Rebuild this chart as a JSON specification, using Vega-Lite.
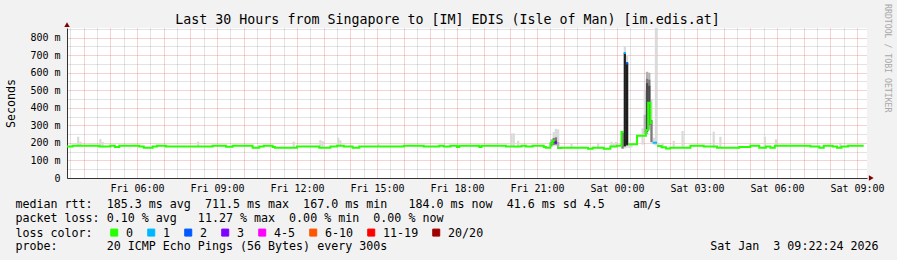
{
  "$schema": "https://vega.github.io/schema/vega-lite/v6.json",
  "width": 800,
  "height": 150,
  "autosize": {"type": "none"},
  "padding": {"left": 67, "top": 28, "right": 30, "bottom": 82},
  "background": "#f2f2f2",
  "config": {"view": {"fill": "#ffffff", "stroke": null}, "font": "DejaVu Sans Mono"},
  "datasets": {
    "smoke": [
      {"t": "2026-01-02T03:45", "t2": "2026-01-02T03:50", "lo": 180, "hi": 235, "s": "s1"},
      {"t": "2026-01-02T03:50", "t2": "2026-01-02T03:55", "lo": 180, "hi": 207, "s": "s1"},
      {"t": "2026-01-02T04:35", "t2": "2026-01-02T04:40", "lo": 176, "hi": 222, "s": "s1"},
      {"t": "2026-01-02T04:40", "t2": "2026-01-02T04:45", "lo": 176, "hi": 205, "s": "s1"},
      {"t": "2026-01-02T08:15", "t2": "2026-01-02T08:20", "lo": 176, "hi": 207, "s": "s1"},
      {"t": "2026-01-02T11:50", "t2": "2026-01-02T11:55", "lo": 170, "hi": 207, "s": "s1"},
      {"t": "2026-01-02T12:50", "t2": "2026-01-02T12:55", "lo": 170, "hi": 216, "s": "s1"},
      {"t": "2026-01-02T12:55", "t2": "2026-01-02T13:00", "lo": 170, "hi": 210, "s": "s1"},
      {"t": "2026-01-02T13:30", "t2": "2026-01-02T13:35", "lo": 180, "hi": 230, "s": "s1"},
      {"t": "2026-01-02T13:35", "t2": "2026-01-02T13:40", "lo": 180, "hi": 215, "s": "s1"},
      {"t": "2026-01-02T15:00", "t2": "2026-01-02T15:05", "lo": 176, "hi": 201, "s": "s1"},
      {"t": "2026-01-02T20:00", "t2": "2026-01-02T20:05", "lo": 176, "hi": 254, "s": "s1"},
      {"t": "2026-01-02T20:05", "t2": "2026-01-02T20:10", "lo": 176, "hi": 254, "s": "s1"},
      {"t": "2026-01-02T20:15", "t2": "2026-01-02T20:20", "lo": 176, "hi": 212, "s": "s1"},
      {"t": "2026-01-02T21:35", "t2": "2026-01-02T21:40", "lo": 180, "hi": 262, "s": "s1"},
      {"t": "2026-01-02T21:40", "t2": "2026-01-02T21:45", "lo": 182, "hi": 280, "s": "s1"},
      {"t": "2026-01-02T21:45", "t2": "2026-01-02T21:50", "lo": 168, "hi": 277, "s": "s1"},
      {"t": "2026-01-02T22:15", "t2": "2026-01-02T22:20", "lo": 168, "hi": 197, "s": "s1"},
      {"t": "2026-01-02T23:15", "t2": "2026-01-02T23:20", "lo": 166, "hi": 201, "s": "s1"},
      {"t": "2026-01-02T23:45", "t2": "2026-01-02T23:50", "lo": 176, "hi": 207, "s": "s1"},
      {"t": "2026-01-02T23:50", "t2": "2026-01-02T23:55", "lo": 176, "hi": 195, "s": "s1"},
      {"t": "2026-01-02T23:55", "t2": "2026-01-03T00:00", "lo": 178, "hi": 205, "s": "s1"},
      {"t": "2026-01-03T00:15", "t2": "2026-01-03T00:20", "lo": 168, "hi": 750, "s": "s1"},
      {"t": "2026-01-03T00:20", "t2": "2026-01-03T00:25", "lo": 172, "hi": 695, "s": "s1"},
      {"t": "2026-01-03T00:25", "t2": "2026-01-03T00:30", "lo": 170, "hi": 198, "s": "s1"},
      {"t": "2026-01-03T00:30", "t2": "2026-01-03T00:35", "lo": 174, "hi": 196, "s": "s1"},
      {"t": "2026-01-03T00:55", "t2": "2026-01-03T01:00", "lo": 190, "hi": 283, "s": "s1"},
      {"t": "2026-01-03T01:00", "t2": "2026-01-03T01:05", "lo": 240, "hi": 500, "s": "s1"},
      {"t": "2026-01-03T01:15", "t2": "2026-01-03T01:20", "lo": 200, "hi": 450, "s": "s1"},
      {"t": "2026-01-03T01:20", "t2": "2026-01-03T01:25", "lo": 190, "hi": 230, "s": "s1"},
      {"t": "2026-01-03T01:25", "t2": "2026-01-03T01:30", "lo": 185, "hi": 870, "s": "s1"},
      {"t": "2026-01-03T01:30", "t2": "2026-01-03T01:35", "lo": 176, "hi": 200, "s": "s1"},
      {"t": "2026-01-03T01:40", "t2": "2026-01-03T01:45", "lo": 168, "hi": 201, "s": "s1"},
      {"t": "2026-01-03T02:05", "t2": "2026-01-03T02:10", "lo": 168, "hi": 212, "s": "s1"},
      {"t": "2026-01-03T02:25", "t2": "2026-01-03T02:30", "lo": 170, "hi": 268, "s": "s1"},
      {"t": "2026-01-03T03:35", "t2": "2026-01-03T03:40", "lo": 170, "hi": 264, "s": "s1"},
      {"t": "2026-01-03T03:50", "t2": "2026-01-03T03:55", "lo": 170, "hi": 235, "s": "s1"},
      {"t": "2026-01-03T05:30", "t2": "2026-01-03T05:35", "lo": 170, "hi": 235, "s": "s1"},
      {"t": "2026-01-03T05:55", "t2": "2026-01-03T06:00", "lo": 178, "hi": 220, "s": "s1"},
      {"t": "2026-01-03T08:20", "t2": "2026-01-03T08:25", "lo": 172, "hi": 201, "s": "s1"},
      {"t": "2026-01-02T21:30", "t2": "2026-01-02T21:35", "lo": 178, "hi": 220, "s": "s2"},
      {"t": "2026-01-02T21:45", "t2": "2026-01-02T21:50", "lo": 170, "hi": 205, "s": "s2"},
      {"t": "2026-01-03T00:10", "t2": "2026-01-03T00:15", "lo": 166, "hi": 268, "s": "s2"},
      {"t": "2026-01-03T01:00", "t2": "2026-01-03T01:05", "lo": 250, "hi": 360, "s": "s2"},
      {"t": "2026-01-03T01:05", "t2": "2026-01-03T01:10", "lo": 250, "hi": 605, "s": "s2"},
      {"t": "2026-01-03T01:10", "t2": "2026-01-03T01:15", "lo": 275, "hi": 600, "s": "s2"},
      {"t": "2026-01-02T21:30", "t2": "2026-01-02T21:35", "lo": 185, "hi": 205, "s": "s3"},
      {"t": "2026-01-02T21:35", "t2": "2026-01-02T21:40", "lo": 188, "hi": 228, "s": "s3"},
      {"t": "2026-01-02T21:40", "t2": "2026-01-02T21:45", "lo": 190, "hi": 232, "s": "s3"},
      {"t": "2026-01-03T00:10", "t2": "2026-01-03T00:15", "lo": 169, "hi": 264, "s": "s3"},
      {"t": "2026-01-03T01:05", "t2": "2026-01-03T01:10", "lo": 262, "hi": 565, "s": "s3"},
      {"t": "2026-01-03T01:10", "t2": "2026-01-03T01:15", "lo": 300, "hi": 560, "s": "s3"},
      {"t": "2026-01-03T01:15", "t2": "2026-01-03T01:20", "lo": 205, "hi": 330, "s": "s3"},
      {"t": "2026-01-02T21:35", "t2": "2026-01-02T21:40", "lo": 198, "hi": 215, "s": "s4"},
      {"t": "2026-01-02T21:40", "t2": "2026-01-02T21:45", "lo": 195, "hi": 212, "s": "s4"},
      {"t": "2026-01-03T01:05", "t2": "2026-01-03T01:10", "lo": 273, "hi": 540, "s": "s4"},
      {"t": "2026-01-03T01:10", "t2": "2026-01-03T01:15", "lo": 315, "hi": 525, "s": "s4"},
      {"t": "2026-01-03T00:20", "t2": "2026-01-03T00:25", "lo": 185, "hi": 660, "s": "s4"},
      {"t": "2026-01-03T00:15", "t2": "2026-01-03T00:20", "lo": 180, "hi": 712, "s": "s5"},
      {"t": "2026-01-03T00:20", "t2": "2026-01-03T00:25", "lo": 190, "hi": 653, "s": "s5"}
    ],
    "median": [
      {"t": "2026-01-02T03:22:24", "v": 179, "loss": "0", "run": 1},
      {"t": "2026-01-02T03:35", "v": 184, "loss": "0", "run": 1},
      {"t": "2026-01-02T04:35", "v": 179, "loss": "0", "run": 1},
      {"t": "2026-01-02T05:00", "v": 184, "loss": "0", "run": 1},
      {"t": "2026-01-02T05:10", "v": 176, "loss": "0", "run": 1},
      {"t": "2026-01-02T05:20", "v": 184, "loss": "0", "run": 1},
      {"t": "2026-01-02T06:05", "v": 179, "loss": "0", "run": 1},
      {"t": "2026-01-02T06:15", "v": 173, "loss": "0", "run": 1},
      {"t": "2026-01-02T06:35", "v": 179, "loss": "0", "run": 1},
      {"t": "2026-01-02T06:45", "v": 184, "loss": "0", "run": 1},
      {"t": "2026-01-02T07:05", "v": 179, "loss": "0", "run": 1},
      {"t": "2026-01-02T08:50", "v": 184, "loss": "0", "run": 1},
      {"t": "2026-01-02T09:20", "v": 178, "loss": "0", "run": 1},
      {"t": "2026-01-02T09:35", "v": 184, "loss": "0", "run": 1},
      {"t": "2026-01-02T10:20", "v": 173, "loss": "0", "run": 1},
      {"t": "2026-01-02T10:35", "v": 179, "loss": "0", "run": 1},
      {"t": "2026-01-02T10:45", "v": 184, "loss": "0", "run": 1},
      {"t": "2026-01-02T11:05", "v": 177, "loss": "0", "run": 1},
      {"t": "2026-01-02T11:10", "v": 173, "loss": "0", "run": 1},
      {"t": "2026-01-02T12:00", "v": 179, "loss": "0", "run": 1},
      {"t": "2026-01-02T12:50", "v": 173, "loss": "0", "run": 1},
      {"t": "2026-01-02T13:15", "v": 179, "loss": "0", "run": 1},
      {"t": "2026-01-02T13:30", "v": 184, "loss": "0", "run": 1},
      {"t": "2026-01-02T13:45", "v": 179, "loss": "0", "run": 1},
      {"t": "2026-01-02T14:05", "v": 173, "loss": "0", "run": 1},
      {"t": "2026-01-02T14:20", "v": 179, "loss": "0", "run": 1},
      {"t": "2026-01-02T16:00", "v": 184, "loss": "0", "run": 1},
      {"t": "2026-01-02T16:45", "v": 179, "loss": "0", "run": 1},
      {"t": "2026-01-02T17:20", "v": 184, "loss": "0", "run": 1},
      {"t": "2026-01-02T17:30", "v": 179, "loss": "0", "run": 1},
      {"t": "2026-01-02T17:45", "v": 184, "loss": "0", "run": 1},
      {"t": "2026-01-02T18:00", "v": 177, "loss": "0", "run": 1},
      {"t": "2026-01-02T18:05", "v": 184, "loss": "0", "run": 1},
      {"t": "2026-01-02T18:50", "v": 176, "loss": "0", "run": 1},
      {"t": "2026-01-02T18:55", "v": 184, "loss": "0", "run": 1},
      {"t": "2026-01-02T19:50", "v": 179, "loss": "0", "run": 1},
      {"t": "2026-01-02T20:25", "v": 184, "loss": "0", "run": 1},
      {"t": "2026-01-02T20:35", "v": 179, "loss": "0", "run": 1},
      {"t": "2026-01-02T20:50", "v": 184, "loss": "0", "run": 1},
      {"t": "2026-01-02T21:15", "v": 176, "loss": "0", "run": 1},
      {"t": "2026-01-02T21:20", "v": 173, "loss": "0", "run": 1},
      {"t": "2026-01-02T21:30", "v": 197, "loss": "0", "run": 1},
      {"t": "2026-01-02T21:35", "v": 212, "loss": "0", "run": 1},
      {"t": "2026-01-02T21:40", "v": 212, "loss": "0", "run": 1},
      {"t": "2026-01-02T21:40", "v": 201, "loss": "3", "run": 2},
      {"t": "2026-01-02T21:45", "v": 201, "loss": "3", "run": 2},
      {"t": "2026-01-02T21:45", "v": 171, "loss": "0", "run": 3},
      {"t": "2026-01-02T21:55", "v": 173, "loss": "0", "run": 3},
      {"t": "2026-01-02T22:55", "v": 167, "loss": "0", "run": 3},
      {"t": "2026-01-02T23:05", "v": 173, "loss": "0", "run": 3},
      {"t": "2026-01-02T23:30", "v": 167, "loss": "0", "run": 3},
      {"t": "2026-01-02T23:45", "v": 179, "loss": "0", "run": 3},
      {"t": "2026-01-03T00:00", "v": 184, "loss": "0", "run": 3},
      {"t": "2026-01-03T00:10", "v": 262, "loss": "0", "run": 3},
      {"t": "2026-01-03T00:15", "v": 262, "loss": "0", "run": 3},
      {"t": "2026-01-03T00:15", "v": 712, "loss": "1", "run": 4},
      {"t": "2026-01-03T00:20", "v": 712, "loss": "1", "run": 4},
      {"t": "2026-01-03T00:20", "v": 653, "loss": "2", "run": 5},
      {"t": "2026-01-03T00:25", "v": 653, "loss": "2", "run": 5},
      {"t": "2026-01-03T00:25", "v": 192, "loss": "0", "run": 6},
      {"t": "2026-01-03T00:45", "v": 240, "loss": "0", "run": 6},
      {"t": "2026-01-03T01:05", "v": 273, "loss": "0", "run": 6},
      {"t": "2026-01-03T01:10", "v": 429, "loss": "0", "run": 6},
      {"t": "2026-01-03T01:15", "v": 315, "loss": "0", "run": 6},
      {"t": "2026-01-03T01:20", "v": 315, "loss": "0", "run": 6},
      {"t": "2026-01-03T01:20", "v": 201, "loss": "1", "run": 7},
      {"t": "2026-01-03T01:30", "v": 201, "loss": "1", "run": 7},
      {"t": "2026-01-03T01:30", "v": 182, "loss": "0", "run": 8},
      {"t": "2026-01-03T01:40", "v": 175, "loss": "0", "run": 8},
      {"t": "2026-01-03T01:50", "v": 168, "loss": "0", "run": 8},
      {"t": "2026-01-03T02:00", "v": 173, "loss": "0", "run": 8},
      {"t": "2026-01-03T02:45", "v": 184, "loss": "0", "run": 8},
      {"t": "2026-01-03T03:15", "v": 179, "loss": "0", "run": 8},
      {"t": "2026-01-03T03:45", "v": 173, "loss": "0", "run": 8},
      {"t": "2026-01-03T04:35", "v": 177, "loss": "0", "run": 8},
      {"t": "2026-01-03T05:00", "v": 184, "loss": "0", "run": 8},
      {"t": "2026-01-03T05:20", "v": 173, "loss": "0", "run": 8},
      {"t": "2026-01-03T05:35", "v": 179, "loss": "0", "run": 8},
      {"t": "2026-01-03T05:45", "v": 173, "loss": "0", "run": 8},
      {"t": "2026-01-03T05:55", "v": 184, "loss": "0", "run": 8},
      {"t": "2026-01-03T07:15", "v": 179, "loss": "0", "run": 8},
      {"t": "2026-01-03T07:35", "v": 173, "loss": "0", "run": 8},
      {"t": "2026-01-03T07:45", "v": 184, "loss": "0", "run": 8},
      {"t": "2026-01-03T08:05", "v": 179, "loss": "0", "run": 8},
      {"t": "2026-01-03T08:15", "v": 173, "loss": "0", "run": 8},
      {"t": "2026-01-03T08:25", "v": 179, "loss": "0", "run": 8},
      {"t": "2026-01-03T08:40", "v": 184, "loss": "0", "run": 8},
      {"t": "2026-01-03T09:15", "v": 184, "loss": "0", "run": 8}
    ],
    "arrows": [
      {"t": "2026-01-02T03:22:24", "v": 874, "a": "up"},
      {"t": "2026-01-03T09:32:00", "v": 0, "a": "right"}
    ],
    "labels": [
      {"t": "2026-01-02T17:38:30", "v": 877.3, "txt": "Last 30 Hours from Singapore to [IM] EDIS (Isle of Man) [im.edis.at]", "k": "title"},
      {"t": "2026-01-03T10:07:24", "v": 991, "txt": "RRDTOOL / TOBI OETIKER", "k": "mark"},
      {"t": "2026-01-02T01:26:18", "v": -173.7, "txt": "median rtt:\u00a0\u00a0185.3 ms avg\u00a0\u00a0711.5 ms max\u00a0\u00a0167.0 ms min\u00a0\u00a0\u00a0184.0 ms now\u00a0\u00a041.6 ms sd\u00a04.5\u00a0\u00a0\u00a0\u00a0am/s", "k": "info"},
      {"t": "2026-01-02T01:26:18", "v": -253.5, "txt": "packet loss:\u00a00.10 % avg\u00a0\u00a0\u00a011.27 % max\u00a0\u00a00.00 % min\u00a0\u00a00.00 % now", "k": "info"},
      {"t": "2026-01-02T01:26:18", "v": -413.0, "txt": "probe:\u00a0\u00a0\u00a0\u00a0\u00a0\u00a0\u00a020 ICMP Echo Pings (56 Bytes) every 300s\u00a0\u00a0\u00a0\u00a0\u00a0\u00a0\u00a0\u00a0\u00a0\u00a0\u00a0\u00a0\u00a0\u00a0\u00a0\u00a0\u00a0\u00a0\u00a0\u00a0\u00a0\u00a0\u00a0\u00a0\u00a0\u00a0\u00a0\u00a0\u00a0\u00a0\u00a0\u00a0\u00a0\u00a0\u00a0\u00a0\u00a0\u00a0\u00a0\u00a0\u00a0\u00a0\u00a0\u00a0\u00a0\u00a0Sat Jan\u00a0\u00a03 09:22:24 2026", "k": "info"}
    ]
  },
  "layer": [
    {
      "data": {"name": "smoke"},
      "mark": {"type": "rect", "clip": true},
      "encoding": {
        "x": {"field": "t", "type": "temporal"},
        "x2": {"field": "t2"},
        "y": {"field": "lo", "type": "quantitative"},
        "y2": {"field": "hi"},
        "fill": {"field": "s", "type": "nominal", "scale": {"domain": ["s1", "s2", "s3", "s4", "s5"], "range": ["#dadada", "#b0b0b0", "#7c7c7c", "#4a4a4a", "#1e1e1e"]}, "legend": null}
      }
    },
    {
      "data": {"name": "median"},
      "mark": {"type": "line", "interpolate": "step-after", "strokeWidth": 2, "clip": true},
      "encoding": {
        "x": {
          "field": "t", "type": "temporal",
          "scale": {"domain": [{"year": 2026, "month": 1, "date": 2, "hours": 3, "minutes": 22, "seconds": 24}, {"year": 2026, "month": 1, "date": 3, "hours": 9, "minutes": 22, "seconds": 24}], "nice": false},
          "axis": {
            "orient": "bottom",
            "tickCount": 60,
            "grid": true,
            "gridColor": {"condition": {"test": "minutes(datum.value) == 0", "value": "#de5050"}, "value": "#8f8f8f"},
            "gridOpacity": 0.5,
            "gridDash": [1, 1],
            "gridWidth": 1,
            "ticks": false,
            "domain": true,
            "domainColor": "#333333",
            "domainWidth": 1,
            "format": "%a %H:%M",
            "labelExpr": "hours(datum.value) % 3 == 0 && minutes(datum.value) == 0 ? datum.label : ''",
            "labelOverlap": false,
            "labelFlush": false,
            "labelBound": false,
            "labelAngle": 0,
            "labelFont": "DejaVu Sans Mono",
            "labelFontSize": 10,
            "labelColor": "#000000",
            "labelPadding": 5.5,
            "title": null
          }
        },
        "y": {
          "field": "v", "type": "quantitative",
          "scale": {"domain": [0, 854.5], "nice": false, "zero": false},
          "axis": {
            "orient": "left",
            "values": [0, 50, 100, 150, 200, 250, 300, 350, 400, 450, 500, 550, 600, 650, 700, 750, 800, 850],
            "tickCount": 40,
            "grid": true,
            "gridColor": {"condition": {"test": "datum.value % 100 == 0", "value": "#de5050"}, "value": "#8f8f8f"},
            "gridOpacity": 0.5,
            "gridDash": [1, 1],
            "gridWidth": 1,
            "ticks": false,
            "domain": true,
            "domainColor": "#333333",
            "labelExpr": "datum.value % 100 == 0 ? (datum.value == 0 ? '0\u00a0\u00a0' : datum.value + ' m') : ''",
            "labelOverlap": false,
            "labelFlush": false,
            "labelBound": false,
            "labelFont": "DejaVu Sans Mono",
            "labelFontSize": 10,
            "labelColor": "#000000",
            "labelPadding": 7,
            "title": "Seconds",
            "titleFont": "DejaVu Sans Mono",
            "titleFontSize": 11.67,
            "titleFontWeight": "normal",
            "titleColor": "#000000",
            "titleAngle": 270,
            "titleAlign": "center",
            "titleBaseline": "middle",
            "titleX": -57,
            "titleY": 75
          }
        },
        "detail": {"field": "run", "type": "nominal"},
        "color": {
          "field": "loss", "type": "nominal",
          "scale": {"domain": ["0", "1", "2", "3", "4-5", "6-10", "11-19", "20/20"], "range": ["#26ff00", "#00b8ff", "#0059ff", "#7e00ff", "#ff00ff", "#ff5500", "#ff0000", "#a10000"]},
          "legend": {
            "orient": "none",
            "legendX": -51.6,
            "legendY": 198.5,
            "direction": "horizontal",
            "title": "loss color:",
            "titleOrient": "left",
            "titleFont": "DejaVu Sans Mono",
            "titleFontSize": 11.67,
            "titleFontWeight": "normal",
            "titleColor": "#000000",
            "titlePadding": 15,
            "labelFont": "DejaVu Sans Mono",
            "labelFontSize": 11.67,
            "labelColor": "#000000",
            "labelOffset": 6,
            "symbolType": "square",
            "symbolSize": 49,
            "symbolStrokeWidth": 1,
            "symbolStrokeColor": "#000000",
            "columnPadding": 12,
            "padding": 0,
            "encode": {"symbols": {"update": {"fill": {"scale": "color", "field": "value"}, "stroke": {"value": "#000000"}, "strokeWidth": {"value": 1}, "opacity": {"value": 1}}}}
          }
        }
      }
    },
    {
      "data": {"name": "arrows"},
      "mark": {"type": "point", "filled": true, "size": 30, "opacity": 1, "color": "#7f0000"},
      "encoding": {
        "x": {"field": "t", "type": "temporal"},
        "y": {"field": "v", "type": "quantitative"},
        "shape": {"field": "a", "type": "nominal", "scale": {"domain": ["up", "right"], "range": ["triangle-up", "triangle-right"]}, "legend": null}
      }
    },
    {
      "data": {"name": "labels"},
      "transform": [{"filter": "datum.k == 'title'"}],
      "mark": {"type": "text", "font": "DejaVu Sans Mono", "fontSize": 13.3, "color": "#000000", "align": "center", "baseline": "alphabetic"},
      "encoding": {
        "x": {"field": "t", "type": "temporal"},
        "y": {"field": "v", "type": "quantitative"},
        "text": {"field": "txt"}
      }
    },
    {
      "data": {"name": "labels"},
      "transform": [{"filter": "datum.k == 'info'"}],
      "mark": {"type": "text", "font": "DejaVu Sans Mono", "fontSize": 11.67, "color": "#000000", "align": "left", "baseline": "alphabetic"},
      "encoding": {
        "x": {"field": "t", "type": "temporal"},
        "y": {"field": "v", "type": "quantitative"},
        "text": {"field": "txt"}
      }
    },
    {
      "data": {"name": "labels"},
      "transform": [{"filter": "datum.k == 'mark'"}],
      "mark": {"type": "text", "font": "DejaVu Sans Mono", "fontSize": 8.2, "color": "#a8a8a8", "align": "left", "baseline": "middle", "angle": 90},
      "encoding": {
        "x": {"field": "t", "type": "temporal"},
        "y": {"field": "v", "type": "quantitative"},
        "text": {"field": "txt"}
      }
    }
  ]
}
